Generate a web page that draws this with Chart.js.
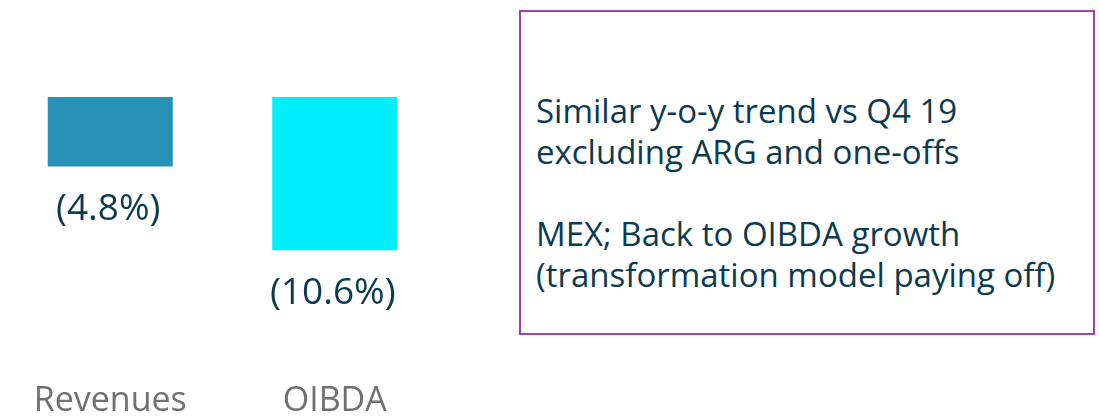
<!DOCTYPE html>
<html>
<head>
<meta charset="utf-8">
<script src="https://cdn.jsdelivr.net/npm/chart.js@4/dist/chart.umd.min.js"></script>
<style>
  html, body { margin: 0; padding: 0; background: #fff; }
  body { width: 1099px; height: 419px; position: relative; overflow: hidden; }
  #wrap { position: absolute; left: -2px; top: 0; width: 449px; height: 419px; }
  #note {
    position: absolute; left: 519px; top: 10px; width: 572px; height: 321px;
    border: 2px solid #a43db5;
    font-family: "Open Sans", sans-serif; font-size: 33px; line-height: 41px;
    color: #0c3a4e;
  }
  #note .txt { position: absolute; left: 15px; top: 78px; white-space: nowrap; }
</style>
</head>
<body>
<div id="wrap"><canvas id="chart"></canvas></div>
<div id="note"><div class="txt">Similar y-o-y trend vs Q4 19<br>excluding ARG and one-offs<br><br>MEX; Back to OIBDA growth<br>(transformation model paying off)</div></div>
<script>
// Data
const categories = ['Revenues', 'OIBDA'];
const changes = [-4.8, -10.6];
const barColors = ['#2892b6', '#00eefe'];

// value labels under each bar, e.g. (4.8%)
const valueLabels = {
  id: 'valueLabels',
  afterDatasetsDraw(chart) {
    const ctx = chart.ctx;
    const meta = chart.getDatasetMeta(0);
    ctx.save();
    ctx.font = '37px "Open Sans", sans-serif';
    ctx.fillStyle = '#0c3a4e';
    ctx.textAlign = 'center';
    ctx.textBaseline = 'middle';
    meta.data.forEach((bar, i) => {
      const txt = '(' + Math.abs(changes[i]).toFixed(1) + '%)';
      ctx.fillText(txt, bar.x - 2, bar.y + 43);
    });
    ctx.restore();
  }
};

new Chart(document.getElementById('chart'), {
  type: 'bar',
  data: {
    labels: categories,
    datasets: [{
      data: changes,
      backgroundColor: barColors,
      borderWidth: 0,
      categoryPercentage: 1,
      barPercentage: 0.557
    }]
  },
  options: {
    responsive: true,
    maintainAspectRatio: false,
    animation: false,
    layout: { padding: { top: 97, left: 0, right: 0, bottom: 0 } },
    plugins: {
      legend: { display: false },
      tooltip: { enabled: false }
    },
    scales: {
      x: {
        grid: { display: false },
        border: { display: false },
        ticks: {
          color: '#707070',
          font: { family: '"Open Sans", sans-serif', size: 34 },
          padding: 4
        },
        afterFit(scale) { scale.height = 50; }
      },
      y: {
        display: false,
        min: -18.8,
        max: 0
      }
    }
  },
  plugins: [valueLabels]
});
</script>
</body>
</html>
